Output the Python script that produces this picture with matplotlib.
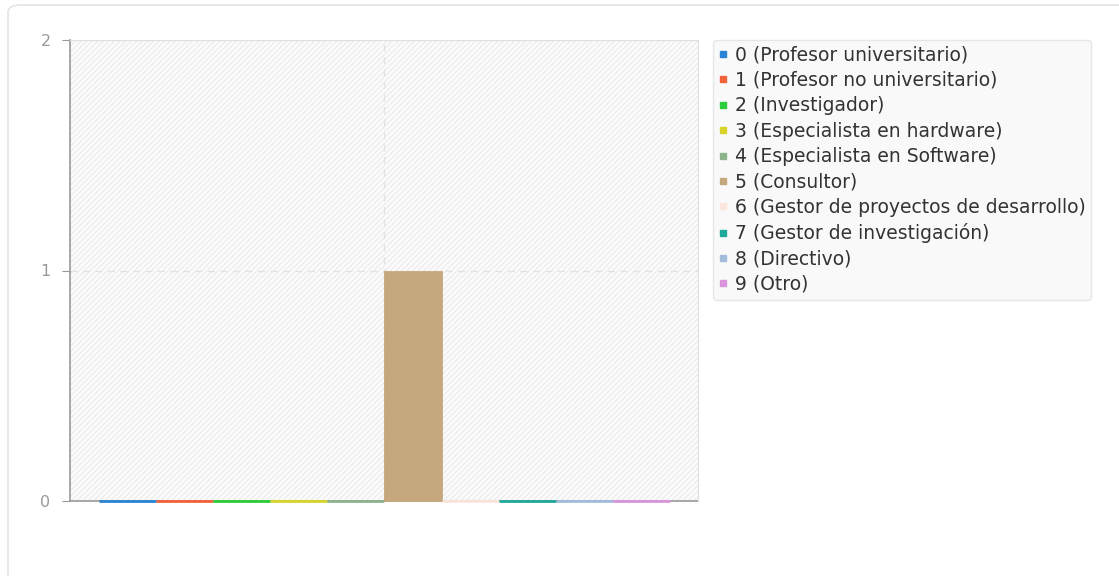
import matplotlib
matplotlib.use('Agg')
import matplotlib.pyplot as plt
from matplotlib.patches import Rectangle, FancyBboxPatch
from matplotlib.lines import Line2D

# data
labels = ['0 (Profesor universitario)', '1 (Profesor no universitario)', '2 (Investigador)',
          '3 (Especialista en hardware)', '4 (Especialista en Software)', '5 (Consultor)',
          '6 (Gestor de proyectos de desarrollo)', '7 (Gestor de investigación)',
          '8 (Directivo)', '9 (Otro)']
values = [0, 0, 0, 0, 0, 1, 0, 0, 0, 0]
colors = ['#2a84d6', '#f0643a', '#2ccc3a', '#d8d42a', '#8cb48c', '#c6a87f',
          '#fbe6de', '#1fa89c', '#a4bcdc', '#da94dc']
yticks = [0, 1, 2]

plt.rcParams['hatch.linewidth'] = 0.6
fig = plt.figure(figsize=(11.19, 5.76), dpi=100)

# outer card border
card = FancyBboxPatch((8/1119, -0.05), 1.2, 1 - 5/576 + 0.05, transform=fig.transFigure,
                      boxstyle='round,pad=0,rounding_size=0.012', facecolor='white',
                      edgecolor='#e4e4e4', linewidth=1.2, zorder=-5)
fig.patches.append(card)

ax = fig.add_axes([70/1119, 75/576, 628/1119, 461/576])
ax.set_facecolor('#fbfbfb')
ax.add_patch(Rectangle((0, 0), 1, 1, transform=ax.transAxes, facecolor='none',
                       edgecolor='#e6e6e6', hatch='//////', linewidth=0, zorder=0))

n = len(values)
w = 0.909 / n
for i, (v, c) in enumerate(zip(values, colors)):
    x = -0.4538 + (i + 0.5) * w
    lw = 2 if v == 0 else 0.6
    ax.bar(x, v, width=w, color=c, edgecolor=c, linewidth=lw, zorder=3, clip_on=False)

ax.set_xlim(-0.5, 0.5)
ax.set_ylim(0, 2)
ax.set_yticks(yticks)
ax.set_xticks([0])
ax.set_xticklabels([''])
ax.tick_params(axis='x', length=0)
ax.tick_params(axis='y', length=6, color='#999999', labelcolor='#999999', labelsize=11.5, pad=8)
ax.grid(True, linestyle=(0, (5, 4)), color='#e2e2e2', linewidth=1, zorder=1)
ax.set_axisbelow(True)
for s in ['top', 'right']:
    ax.spines[s].set_color('#e0e0e0')
for s in ['left', 'bottom']:
    ax.spines[s].set_color('#999999')
    ax.spines[s].set_linewidth(1.2)
ax.spines['bottom'].set_zorder(2)

handles = [Line2D([], [], marker='s', linestyle='none', markersize=5,
                  markerfacecolor=c, markeredgecolor=c) for c in colors]
leg = fig.legend(handles, labels, loc='upper left', bbox_to_anchor=(713/1119, 1 - 40/576),
                 fontsize=13.5, frameon=True, fancybox=True, framealpha=1,
                 facecolor='#f9f9f9', edgecolor='#e6e6e6', handlelength=0.45,
                 handletextpad=0.4, labelspacing=0.34, borderpad=0.3, borderaxespad=0)
for t in leg.get_texts():
    t.set_color('#333333')

fig.savefig('out.png', dpi=100)
